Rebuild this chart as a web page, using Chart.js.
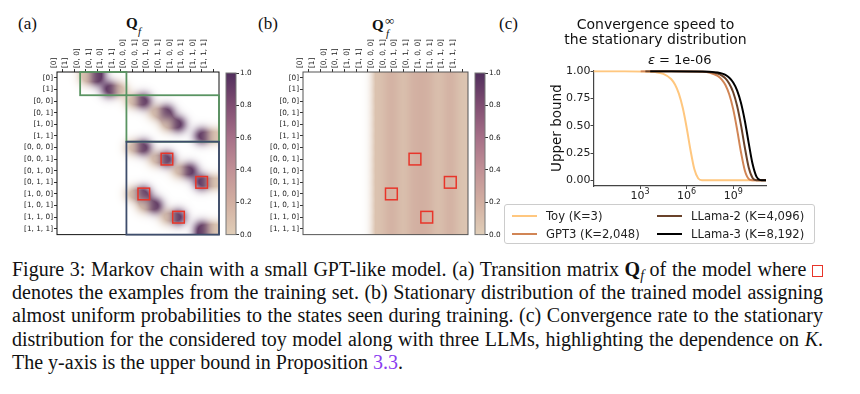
<!DOCTYPE html>
<html>
<head>
<meta charset="utf-8">
<script src="https://cdn.jsdelivr.net/npm/chart.js@4.4.1/dist/chart.umd.min.js"></script>
<style>
  body { margin: 0; background: #fff; }
  #page { position: relative; width: 860px; height: 394px; overflow: hidden; background: #fff; }
  canvas { position: absolute; }
  .lbl { position: absolute; font-family: 'Liberation Serif', serif; font-size: 17px; line-height: 1; color: #111; }
  .qt { position: absolute; font-family: 'Liberation Serif', serif; font-size: 15px; line-height: 1; color: #111; }
  .qt b { font-weight: bold; }
  .qt .sb { position: absolute; font-style: italic; font-size: 11px; }
  #legend { position: absolute; left: 504px; top: 204px; width: 311px; height: 40px; border: 1px solid #ccc; border-radius: 3px;
            display: grid; grid-auto-flow: column; grid-template-rows: 18px 18px; grid-template-columns: 145px auto;
            padding: 2px 0 0 7px; box-sizing: border-box; font-family: 'DejaVu Sans', sans-serif; font-size: 11.6px; color: #222; }
  #legend .it { display: flex; align-items: center; white-space: nowrap; }
  #legend .ln { width: 25px; height: 2px; margin-right: 9px; }
  #caption { position: absolute; left: 12px; top: 258px; width: 811px; font-family: 'Liberation Serif', serif; font-size: 20px; line-height: 23.2px; color: #111; }
  #caption div { white-space: nowrap; }
  #caption div.fit { text-align: justify; text-align-last: justify; }
  #caption sub { font-size: 0.7em; vertical-align: -0.3em; line-height: 0; }
  .sq { display: inline-block; width: 9px; height: 10px; border: 1.5px solid #e8352a; vertical-align: -1px; }
  .ref { color: #8a3df0; }
</style>
</head>
<body>
<div id="page">
  <div class="lbl" style="left:18px; top:15px;">(a)</div>
  <div class="lbl" style="left:258px; top:15px;">(b)</div>
  <div class="lbl" style="left:499px; top:15px;">(c)</div>
  <div class="qt" style="left:126px; top:16px;"><b>Q</b><span class="sb" style="left:12px; top:10px;">f</span></div>
  <div class="qt" style="left:372px; top:18px;"><b>Q</b><span class="sb" style="left:14px; top:10px;">f</span><span class="sb" style="left:13px; top:-4px; font-style:normal; font-size:13px;">∞</span></div>

  <canvas id="heatA" width="225" height="240" style="left:0; top:0;"></canvas>
  <canvas id="cbarA" width="36" height="180" style="left:222px; top:60px;"></canvas>
  <canvas id="heatB" width="228" height="240" style="left:246px; top:0;"></canvas>
  <canvas id="cbarB" width="36" height="180" style="left:471px; top:60px;"></canvas>
  <canvas id="conv" width="238" height="200" style="left:540px; top:0;"></canvas>
  <div id="legend"></div>

  <div id="caption">
    <div class="j">Figure 3: Markov chain with a small GPT-like model. (a) Transition matrix <b>Q</b><sub><i>f</i></sub> of the model where <span class="sq"></span></div>
    <div class="j">denotes the examples from the training set. (b) Stationary distribution of the trained model assigning</div>
    <div class="j">almost uniform probabilities to the states seen during training. (c) Convergence rate to the stationary</div>
    <div class="j">distribution for the considered toy model along with three LLMs, highlighting the dependence on <i>K</i>.</div>
    <div>The y-axis is the upper bound in Proposition <span class="ref">3.3</span>.</div>
  </div>
</div>

<script>
// states of the chain (rows = from, columns = to)
const states = ['[0]', '[1]', '[0, 0]', '[0, 1]', '[1, 0]', '[1, 1]',
  '[0, 0, 0]', '[0, 0, 1]', '[0, 1, 0]', '[0, 1, 1]',
  '[1, 0, 0]', '[1, 0, 1]', '[1, 1, 0]', '[1, 1, 1]'];

// transition matrix Q_f
const qf = [
  [0, 0, 0.05, 0.95, 0, 0, 0, 0, 0, 0, 0, 0, 0, 0],
  [0, 0, 0, 0, 0.95, 0.05, 0, 0, 0, 0, 0, 0, 0, 0],
  [0, 0, 0, 0, 0, 0, 0.05, 0.95, 0, 0, 0, 0, 0, 0],
  [0, 0, 0, 0, 0, 0, 0, 0, 0.05, 0.95, 0, 0, 0, 0],
  [0, 0, 0, 0, 0, 0, 0, 0, 0, 0.05, 0.95, 0, 0, 0],
  [0, 0, 0, 0, 0, 0, 0, 0, 0, 0, 0, 0, 0.95, 0.05],
  [0, 0, 0, 0, 0, 0, 0.05, 0.95, 0, 0, 0, 0, 0, 0],
  [0, 0, 0, 0, 0, 0, 0, 0, 0.05, 0.95, 0, 0, 0, 0],
  [0, 0, 0, 0, 0, 0, 0, 0, 0, 0, 0.05, 0.95, 0, 0],
  [0, 0, 0, 0, 0, 0, 0, 0, 0, 0, 0, 0, 0.95, 0.05],
  [0, 0, 0, 0, 0, 0, 0.05, 0.95, 0, 0, 0, 0, 0, 0],
  [0, 0, 0, 0, 0, 0, 0, 0.05, 0.95, 0, 0, 0, 0, 0],
  [0, 0, 0, 0, 0, 0, 0, 0, 0, 0.05, 0.95, 0, 0, 0],
  [0, 0, 0, 0, 0, 0, 0, 0, 0, 0, 0, 0, 0.95, 0.05]
];

// stationary distribution (every row of Q_f^inf)
const piInf = [0, 0, 0, 0, 0, 0, 0.07, 0.2, 0.08, 0.2, 0.2, 0.08, 0.2, 0.06];

// training examples [row, col]
const trainCells = [[7, 9], [9, 12], [10, 7], [12, 10]];

// block outlines in panel a: [colFrom, colTo, rowFrom, rowTo]
const blocksGreen = [[2, 5, 0, 1], [6, 13, 2, 5]];
const blocksBlue = [[6, 13, 6, 13]];

const cbTicks = [0, 0.2, 0.4, 0.6, 0.8, 1.0];

// panel c: convergence curves
const toyX = [1, 1e2, 1e3, 1e4, 3.16e4, 1e5, 1.78e5, 3.16e5, 5.62e5, 1e6, 1.78e6, 3.16e6, 5.62e6, 1e7, 3.16e7, 1e8, 1e9, 1e10, 1.3e11];
const toyY = [1, 1, 0.999, 0.993, 0.977, 0.93, 0.879, 0.795, 0.665, 0.485, 0.276, 0.101, 0.017, 0.001, 0, 0, 0, 0, 0];
const gptX = [1.1e3, 1e5, 1e7, 3.16e7, 1e8, 1.78e8, 3.16e8, 5.62e8, 1e9, 1.78e9, 3.16e9, 5.62e9, 1e10, 1.78e10, 3.16e10, 1e11, 1.3e11];
const gptY = [1, 1, 0.996, 0.987, 0.958, 0.927, 0.874, 0.787, 0.653, 0.468, 0.26, 0.091, 0.014, 0.001, 0, 0, 0];
const llama2X = [2.2e3, 1e5, 1e7, 3.16e7, 1e8, 1.78e8, 3.16e8, 5.62e8, 1e9, 1.78e9, 3.16e9, 5.62e9, 1e10, 1.78e10, 3.16e10, 5.62e10, 1.3e11];
const llama2Y = [1, 1, 0.998, 0.993, 0.979, 0.963, 0.935, 0.887, 0.808, 0.684, 0.509, 0.301, 0.118, 0.022, 0.001, 0, 0];
const llama3X = [4.5e3, 1e5, 1e7, 3.16e7, 1e8, 1.78e8, 3.16e8, 5.62e8, 1e9, 1.78e9, 3.16e9, 5.62e9, 1e10, 1.78e10, 3.16e10, 5.62e10, 1e11, 1.3e11];
const llama3Y = [1, 1, 0.999, 0.997, 0.989, 0.981, 0.967, 0.941, 0.898, 0.826, 0.712, 0.547, 0.342, 0.149, 0.034, 0.002, 0, 0];

const seriesNames = ['Toy (K=3)', 'GPT3 (K=2,048)', 'LLama-2 (K=4,096)', 'LLama-3 (K=8,192)'];
const xTicks = [1e3, 1e6, 1e9];
const xTickExp = ['3', '6', '9'];
const yTicks = [0, 0.25, 0.5, 0.75, 1.0];

// colors
const seriesColors = ['#ffc77f', '#d18555', '#69422a', '#000000'];
const cmapStops = [[0, [224, 206, 184]], [0.2, [210, 175, 161]], [0.4, [193, 145, 150]], [0.6, [166, 112, 136]],
                   [0.8, [128, 78, 114]], [1.0, [80, 46, 92]]];

Chart.defaults.font.family = "'DejaVu Sans', sans-serif";
Chart.defaults.color = '#222';

function cmap(v) {
  for (let i = 1; i < cmapStops.length; i++) {
    const [p1, c1] = cmapStops[i];
    const [p0, c0] = cmapStops[i - 1];
    if (v <= p1) {
      const t = (v - p0) / (p1 - p0);
      return c0.map((c, k) => c + (c1[k] - c) * t);
    }
  }
  return cmapStops[cmapStops.length - 1][1];
}

// gaussian smoothing weight (distance in cells)
const SIGMA = 0.5;
const kern = t => Math.exp(-t * t / (2 * SIGMA * SIGMA));

// draws the matrix as a smoothed image, every pixel located through the scales
const heatmapPlugin = {
  id: 'heatmap',
  beforeDatasetsDraw(chart, args, opts) {
    const { ctx, chartArea: a, scales: { x, y } } = chart;
    const m = opts.matrix;
    const nR = m.length, nC = m[0].length;
    const cells = m.map(row => row.map(v => v > 0 ? cmap(v).concat(1) : [0, 0, 0, 0]));
    const x0 = Math.round(a.left), y0 = Math.round(a.top);
    const w = Math.round(a.right) - x0, h = Math.round(a.bottom) - y0;
    const off = document.createElement('canvas');
    off.width = w; off.height = h;
    const octx = off.getContext('2d');
    const img = octx.createImageData(w, h);
    const clampI = (i, n) => Math.min(n - 1, Math.max(0, i));
    for (let py = 0; py < h; py++) {
      const v = y.getValueForPixel(y0 + py + 0.5);
      const r0 = Math.round(v);
      for (let px = 0; px < w; px++) {
        const u = x.getValueForPixel(x0 + px + 0.5);
        const c0 = Math.round(u);
        let R = 0, G = 0, B = 0, A = 0;
        for (let r = r0 - 2; r <= r0 + 2; r++) {
          const wy = kern(v - r);
          const row = cells[clampI(r, nR)];
          for (let c = c0 - 2; c <= c0 + 2; c++) {
            const cell = row[clampI(c, nC)];
            const k = wy * kern(u - c) * cell[3];
            R += k * cell[0]; G += k * cell[1]; B += k * cell[2]; A += k;
          }
        }
        const q = (py * w + px) * 4;
        if (A > 0.003) {
          img.data[q] = R / A;
          img.data[q + 1] = G / A;
          img.data[q + 2] = B / A;
          img.data[q + 3] = Math.min(1, A) * 255;
        }
      }
    }
    octx.putImageData(img, 0, 0);
    ctx.drawImage(off, x0, y0);
  },
  afterDraw(chart, args, opts) {
    const { ctx, chartArea: a, scales: { x, y } } = chart;
    const rect = (c0, c1, r0, r1, color, w) => {
      const px0 = x.getPixelForValue(c0 - 0.5), px1 = x.getPixelForValue(c1 + 0.5);
      const py0 = y.getPixelForValue(r0 - 0.5), py1 = y.getPixelForValue(r1 + 0.5);
      ctx.strokeStyle = color; ctx.lineWidth = w;
      ctx.strokeRect(px0, py0, px1 - px0, py1 - py0);
    };
    ctx.save();
    ctx.strokeStyle = opts.frame; ctx.lineWidth = 1;
    ctx.strokeRect(a.left, a.top, a.right - a.left, a.bottom - a.top);
    (opts.green || []).forEach(b => rect(b[0], b[1], b[2], b[3], '#5a9462', 1.8));
    (opts.blue || []).forEach(b => rect(b[0], b[1], b[2], b[3], '#3e4d6c', 1.8));
    (opts.marks || []).forEach(([r, c]) => rect(c, c, r, r, '#e8352a', 1.5));
    ctx.restore();
  }
};

const colorbarPlugin = {
  id: 'colorbar',
  beforeDatasetsDraw(chart) {
    const { ctx, chartArea: a, scales: { y } } = chart;
    const g = ctx.createLinearGradient(0, y.getPixelForValue(0), 0, y.getPixelForValue(1));
    cmapStops.forEach(([p, c]) => g.addColorStop(p, `rgb(${c.join(',')})`));
    ctx.save();
    ctx.fillStyle = g;
    ctx.fillRect(a.left, a.top, a.right - a.left, a.bottom - a.top);
    ctx.strokeStyle = '#777'; ctx.lineWidth = 1;
    ctx.strokeRect(a.left, a.top, a.right - a.left, a.bottom - a.top);
    ctx.restore();
  }
};

const tickFont = { size: 7.3, family: "'DejaVu Sans', sans-serif" };

function heatmap(id, matrix, extra) {
  return new Chart(document.getElementById(id), {
    type: 'scatter',
    data: { datasets: [] },
    options: {
      animation: false, responsive: false, events: [],
      layout: { padding: { left: 12, top: 32, right: 6, bottom: 5 } },
      plugins: {
        legend: { display: false }, tooltip: { enabled: false },
        heatmap: Object.assign({ matrix: matrix }, extra)
      },
      scales: {
        x: {
          type: 'linear', position: 'top', min: -0.5, max: states.length - 0.5,
          afterBuildTicks: s => { s.ticks = states.map((_, i) => ({ value: i })); },
          afterFit: s => { s.height = 40; },
          ticks: { callback: v => states[v], minRotation: 90, maxRotation: 90, autoSkip: false, font: tickFont, color: '#222', padding: 1 },
          grid: { drawOnChartArea: false, tickLength: 3, color: '#333' },
          border: { display: false }
        },
        y: {
          type: 'linear', reverse: true, min: -0.5, max: states.length - 0.5,
          afterBuildTicks: s => { s.ticks = states.map((_, i) => ({ value: i })); },
          afterFit: s => { s.width = 45; },
          ticks: { callback: v => states[v], autoSkip: false, font: tickFont, color: '#222', padding: 1 },
          grid: { drawOnChartArea: false, tickLength: 3, color: '#333' },
          border: { display: false }
        }
      }
    },
    plugins: [heatmapPlugin]
  });
}

function colorbar(id) {
  return new Chart(document.getElementById(id), {
    type: 'scatter',
    data: { datasets: [] },
    options: {
      animation: false, responsive: false, events: [],
      layout: { padding: { left: 4, top: 13, right: 0, bottom: 5 } },
      plugins: { legend: { display: false }, tooltip: { enabled: false } },
      scales: {
        x: { display: false, min: 0, max: 1 },
        y: {
          position: 'right', min: 0, max: 1,
          afterBuildTicks: s => { s.ticks = cbTicks.map(v => ({ value: v })); },
          afterFit: s => { s.width = 22; },
          ticks: { callback: v => v.toFixed(1), font: tickFont, color: '#222', padding: 1 },
          grid: { drawOnChartArea: false, tickLength: 3, color: '#333' },
          border: { display: false }
        }
      }
    },
    plugins: [colorbarPlugin]
  });
}

heatmap('heatA', qf, { frame: '#111', green: blocksGreen, blue: blocksBlue, marks: trainCells });
colorbar('cbarA');
heatmap('heatB', states.map(() => piInf), { frame: '#555', marks: trainCells });
colorbar('cbarB');

// panel c
const xs = [toyX, gptX, llama2X, llama3X];
const ys = [toyY, gptY, llama2Y, llama3Y];

const textPlugin = {
  id: 'convText',
  afterDraw(chart) {
    const { ctx, chartArea: a, scales: { x } } = chart;
    ctx.save();
    ctx.fillStyle = '#111';
    ctx.textBaseline = 'middle';
    // epsilon subtitle centred on the axes
    ctx.font = "italic 13px 'DejaVu Sans', sans-serif";
    const w1 = ctx.measureText('ε').width;
    ctx.font = "13px 'DejaVu Sans', sans-serif";
    const rest = ' = 1e-06';
    const w2 = ctx.measureText(rest).width;
    const left = (a.left + a.right) / 2 - (w1 + w2) / 2;
    ctx.fillText(rest, left + w1, a.top - 10);
    ctx.font = "italic 13px 'DejaVu Sans', sans-serif";
    ctx.fillText('ε', left, a.top - 10);
    // 10^k tick labels
    ctx.fillStyle = '#222';
    xTicks.forEach((v, i) => {
      const px = x.getPixelForValue(v);
      ctx.font = "11px 'DejaVu Sans', sans-serif";
      const wb = ctx.measureText('10').width;
      ctx.font = "8px 'DejaVu Sans', sans-serif";
      const we = ctx.measureText(xTickExp[i]).width;
      const l = px - (wb + we) / 2;
      ctx.font = "11px 'DejaVu Sans', sans-serif";
      ctx.fillText('10', l, a.bottom + 10);
      ctx.font = "8px 'DejaVu Sans', sans-serif";
      ctx.fillText(xTickExp[i], l + wb, a.bottom + 6);
    });
    ctx.restore();
  }
};

const conv = new Chart(document.getElementById('conv'), {
  type: 'scatter',
  data: {
    datasets: seriesNames.map((name, i) => ({
      label: name,
      data: xs[i].map((x, j) => ({ x: x, y: ys[i][j] })),
      showLine: true,
      borderColor: seriesColors[i],
      backgroundColor: seriesColors[i],
      borderWidth: 2,
      pointRadius: 0,
      cubicInterpolationMode: 'monotone',
      order: seriesNames.length - i
    }))
  },
  options: {
    animation: false, responsive: false, events: [],
    layout: { padding: { left: 5, right: 12, top: 0, bottom: 0 } },
    plugins: {
      legend: { display: false }, tooltip: { enabled: false },
      title: {
        display: true,
        text: ['Convergence speed to', 'the stationary distribution'],
        font: { size: 14, weight: 'normal', lineHeight: 1.08 },
        color: '#111',
        padding: { top: 18, bottom: 22 }
      }
    },
    scales: {
      x: {
        type: 'logarithmic', min: 1, max: 1.3e11,
        afterBuildTicks: s => { s.ticks = xTicks.map(v => ({ value: v })); },
        afterFit: s => { s.height = 14; },
        ticks: { callback: () => '', padding: 1, maxRotation: 0 },
        grid: { drawOnChartArea: false, tickLength: 3, color: '#444' },
        border: { color: '#444', width: 1.2 }
      },
      y: {
        min: -0.052, max: 1.01,
        afterBuildTicks: s => { s.ticks = yTicks.map(v => ({ value: v })); },
        afterFit: s => { s.width = 48.5; },
        ticks: { callback: v => v.toFixed(2), font: { size: 11 }, color: '#222', padding: 0 },
        grid: { drawOnChartArea: false, tickLength: 3, color: '#444' },
        border: { color: '#444', width: 1.2 },
        title: { display: true, text: 'Upper bound', font: { size: 13.5 }, color: '#111', padding: { top: 4, bottom: 0 } }
      }
    }
  },
  plugins: [textPlugin]
});

// legend built from the datasets, two columns
const legendEl = document.getElementById('legend');
conv.data.datasets.forEach(ds => {
  const it = document.createElement('div');
  it.className = 'it';
  it.innerHTML = `<span class="ln" style="background:${ds.borderColor}"></span><span>${ds.label}</span>`;
  legendEl.appendChild(it);
});

// caption: justify full lines, tighten any line that is naturally too wide
document.querySelectorAll('#caption div').forEach(d => {
  d.style.display = 'inline-block';
  const natural = d.getBoundingClientRect().width;
  d.style.display = '';
  if (natural > 811) {
    const n = d.textContent.length;
    d.style.letterSpacing = ((811 - natural) / n) + 'px';
  }
  if (d.classList.contains('j')) d.classList.add('fit');
});
</script>
</body>
</html>
